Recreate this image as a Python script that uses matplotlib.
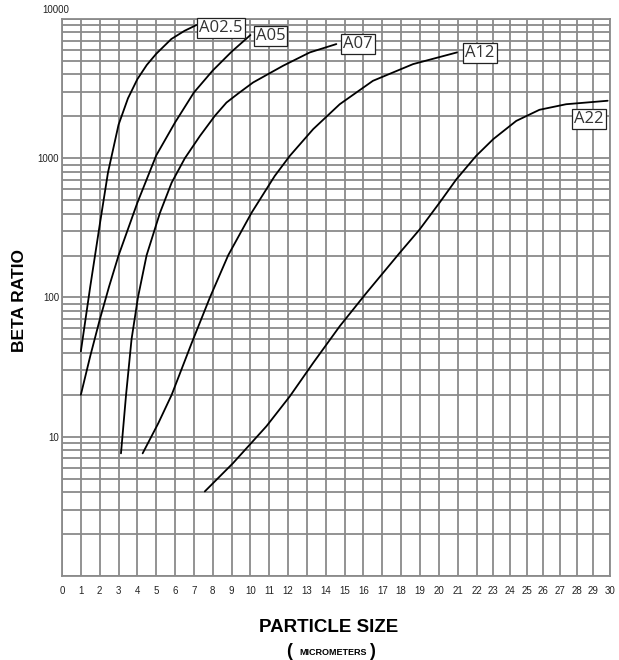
import numpy as np
import matplotlib
matplotlib.use("Agg")
import matplotlib.pyplot as plt
from matplotlib.ticker import NullFormatter, NullLocator

# beta ratio curves (particle size in micrometers, beta)
a025_x = [1.0, 1.5, 2.0, 2.44, 3.0, 3.5, 4.0, 4.5, 5.0, 5.8, 6.5, 7.14]
a025_y = [41, 120, 331, 789, 1738, 2692, 3698, 4677, 5623, 7178, 8222, 9057]

a05_x = [1.0, 1.5, 2.0, 2.5, 3.0, 4.0, 5.0, 6.0, 7.0, 8.0, 9.0, 10.0]
a05_y = [20, 38, 69, 120, 200, 479, 1047, 1807, 2965, 4266, 5821, 7670]

a07_x = [3.13, 3.4, 3.69, 4.03, 4.49, 5.2, 5.82, 6.52, 7.32, 8.11, 8.73, 9.35,
         10.14, 11.73, 13.15, 14.56]
a07_y = [7.6, 20, 50, 100, 201, 406, 668, 1000, 1445, 2014, 2512, 2917,
         3500, 4613, 5754, 6607]

a12_x = [4.28, 5.11, 5.82, 6.88, 7.85, 8.82, 10.06, 11.29, 12.09, 13.33, 14.74,
         16.5, 18.63, 20.96]
a12_y = [7.6, 12.5, 20, 47, 100, 201, 406, 746, 1040, 1618, 2443,
         3597, 4742, 5754]

a22_x = [7.58, 9.08, 10.85, 12.09, 13.33, 14.74, 16.16, 17.92, 18.98, 20.04,
         20.93, 21.98, 23.0, 24.38, 25.77, 27.37, 29.86]
a22_y = [4.05, 6.47, 11.9, 19.5, 33.9, 62.2, 108, 209, 308, 480,
         706, 1040, 1371, 1854, 2228, 2443, 2588]

series = [
    ("A02.5", a025_x, a025_y),
    ("A05", a05_x, a05_y),
    ("A07", a07_x, a07_y),
    ("A12", a12_x, a12_y),
    ("A22", a22_x, a22_y),
]

x_ticks = list(range(31))
y_labels = {10: "10", 100: "100", 1000: "1000"}

# the printed grid gets narrower past 22 micrometers
K = 16.7 / 18.86


def fwd(x):
    x = np.asarray(x, dtype=float)
    return np.where(x <= 22, x, 22 + (x - 22) * K)


def inv(x):
    x = np.asarray(x, dtype=float)
    return np.where(x <= 22, x, 22 + (x - 22) / K)


GRID = "#8a8a8a"

fig = plt.figure(figsize=(6.19, 6.60), dpi=100)
ax = fig.add_axes([62 / 619, 1 - 576 / 660, 548 / 619, 557 / 660])

ax.set_xscale("function", functions=(fwd, inv))
ax.set_yscale("log")
ax.set_xlim(0, 30)
ax.set_ylim(1, 10000)

ax.set_xticks(x_ticks, [str(t) for t in x_ticks])
ax.xaxis.set_minor_locator(NullLocator())
majors = [1, 10, 100, 1000, 10000]
ax.set_yticks(majors, [y_labels.get(m, "") for m in majors])
ax.set_yticks([k * 10 ** n for n in range(4) for k in range(2, 10)], minor=True)
ax.yaxis.set_minor_formatter(NullFormatter())

ax.tick_params(which="both", length=0, labelsize=7, labelcolor="#222222")
ax.tick_params(axis="x", pad=7)
ax.tick_params(axis="y", pad=2)
for lab in ax.get_xticklabels() + ax.get_yticklabels():
    lab.set_family("Liberation Sans")

ax.set_axisbelow(True)
ax.grid(True, which="both", color=GRID, lw=1.3)
for sp in ax.spines.values():
    sp.set_color(GRID)
    sp.set_linewidth(1.3)

for name, xs, ys in series:
    ax.plot(xs, ys, color="black", lw=1.3, solid_capstyle="round",
            solid_joinstyle="round")

box = dict(boxstyle="square,pad=0.12", fc="white", ec="#222222", lw=0.9)
label_pos = {
    "A02.5": (7.14, 8610, "left"),
    "A05": (10.13, 7550, "left"),
    "A07": (14.79, 6560, "left"),
    "A12": (21.26, 5740, "left"),
    "A22": (29.78, 1923, "right"),
}
for name, (lx, ly, ha) in label_pos.items():
    off = 2 if ha == "left" else -2
    ax.annotate(name, (lx, ly), xytext=(off, 0), textcoords="offset points",
                ha=ha, va="center", fontsize=12, family="Open Sans",
                color="#333333", bbox=box, zorder=5)

ax.text(-0.011, 1.008, "10000", transform=ax.transAxes, ha="center", va="bottom",
        fontsize=7, family="Liberation Sans", color="#222222")

fig.text(20 / 619, 1 - 300 / 660, "BETA RATIO", rotation=90, ha="center", va="center",
         fontsize=12.5, fontweight="bold", family="Liberation Sans")
fig.text(329 / 619, 1 - 628 / 660, "PARTICLE SIZE", ha="center", va="center",
         fontsize=13.5, fontweight="bold", family="Liberation Sans")
fig.text(289 / 619, 1 - 652 / 660, "(", ha="center", va="center",
         fontsize=13, fontweight="bold", family="Liberation Sans")
fig.text(333 / 619, 1 - 652.5 / 660, "MICROMETERS", ha="center", va="center",
         fontsize=6.5, fontweight="bold", family="Liberation Sans")
fig.text(372 / 619, 1 - 652 / 660, ")", ha="center", va="center",
         fontsize=13, fontweight="bold", family="Liberation Sans")

fig.savefig("out.png", dpi=100, facecolor="white")
